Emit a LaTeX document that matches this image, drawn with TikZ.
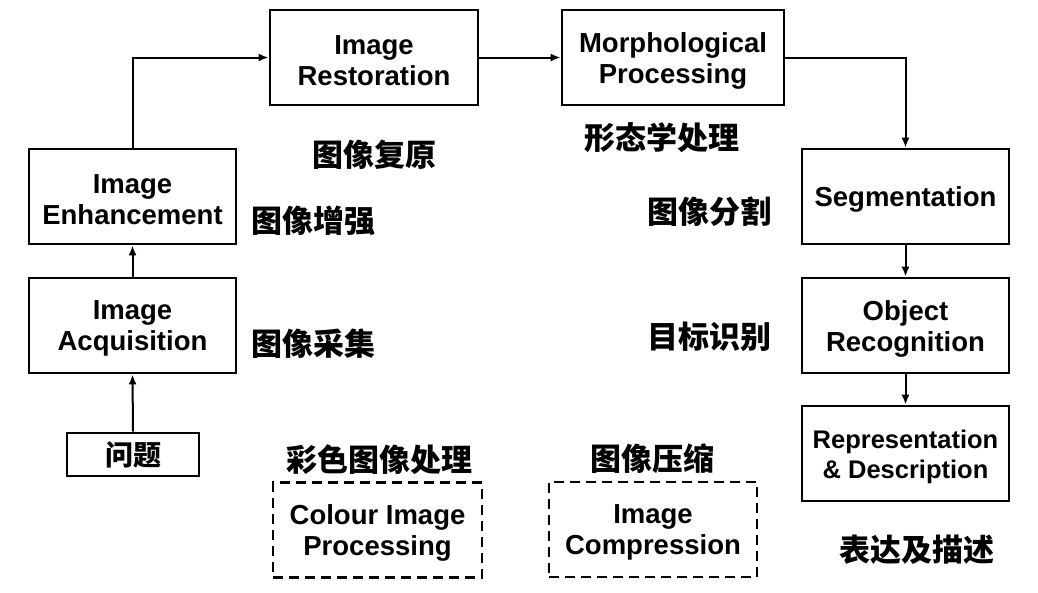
\documentclass[tikz,border=0pt]{standalone}
\usepackage{fontspec}
\setmainfont{Liberation Sans}
\newfontfamily\cjk{Noto Sans CJK SC}
\usetikzlibrary{arrows.meta}
\newcommand{\dnline}[1]{\raisebox{-3pt}[\height][\depth]{#1}}
\begin{document}
\begin{tikzpicture}[x=1pt,y=-1pt,
  box/.style={draw,line width=2.7pt,rectangle,minimum width=207pt,minimum height=95pt,align=center,inner sep=0pt,
    font=\fontsize{27.5}{31}\selectfont\bfseries},
  dbox/.style={box,dash pattern=on 10pt off 6pt},
  lab/.style={font=\cjk\fontsize{31}{34}\selectfont\bfseries,inner sep=0pt},
  conn/.style={line width=2pt,-{Latex[length=10pt,width=8pt]}}]
\useasboundingbox (0,0) rectangle (1038,592);
\node[box,minimum width=208pt] (rest) at (374,57.5) {\dnline{Image}\\\dnline{Restoration}};
\node[box,minimum width=222pt] (morph) at (673,57.5) {\dnline{Morphological}\\\dnline{Processing}};
\node[box] (enh) at (132.5,196.5) {\dnline{Image}\\\dnline{Enhancement}};
\node[box] (acq) at (132.5,325.5) {\dnline{Image}\\\dnline{Acquisition}};
\node[box,minimum width=132pt,minimum height=43pt,font=\cjk\fontsize{28}{30}\selectfont\bfseries] (prob) at (133,454.5) {问题};
\node[dbox,minimum width=209pt] (colour) at (377.5,530) {\dnline{Colour Image}\\\dnline{Processing}};
\node[dbox,minimum width=208pt] (comp) at (653,529.5) {\dnline{Image}\\\dnline{Compression}};
\node[box] (seg) at (905.5,196.5) {\dnline{Segmentation}};
\node[box] (obj) at (905.5,325.5) {\dnline{Object}\\\dnline{Recognition}};
\node[box,font=\fontsize{25.5}{30}\selectfont\bfseries] (rep) at (905.5,453.5) {\dnline{Representation}\\\dnline{\&~Description}};
\node[lab] (l1) at (374,155) {图像复原};
\node[lab] (l2) at (313,221) {图像增强};
\node[lab] (l3) at (662,138) {形态学处理};
\node[lab] (l4) at (709,212) {图像分割};
\node[lab] (l5) at (313,344) {图像采集};
\node[lab] (l6) at (709,337) {目标识别};
\node[lab] (l7) at (379,460) {彩色图像处理};
\node[lab] (l8) at (652,459) {图像压缩};
\node[lab] (l9) at (917,550) {表达及描述};
\draw[conn] (prob.north) -- (acq.south);
\draw[conn] (acq.north) -- (enh.south);
\draw[conn] (enh.north) |- (rest.west);
\draw[conn] (rest.east) -- (morph.west);
\draw[conn] (morph.east) -| (seg.north);
\draw[conn] (seg.south) -- (obj.north);
\draw[conn] (obj.south) -- (rep.north);
\end{tikzpicture}
\end{document}
